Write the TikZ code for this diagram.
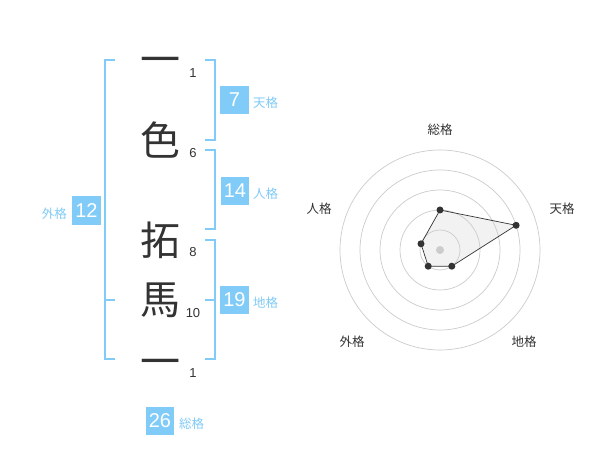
\documentclass[tikz,border=0pt]{standalone}
\usepackage{fontspec}
\setmainfont{Liberation Sans}
\newfontfamily\jp{Noto Sans CJK JP}
\definecolor{kblue}{HTML}{80CBF8}
\definecolor{kdark}{HTML}{333333}
\definecolor{kgrid}{HTML}{CCCCCC}
\definecolor{kfill}{HTML}{E6E6E6}
\tikzset{
  bracket/.style={draw=kblue, line width=2pt},
  bigchar/.style={inner sep=0pt, text=kdark, font=\jp\fontsize{40}{40}\selectfont},
  strokenum/.style={inner sep=0pt, text=kdark, font=\fontsize{13}{13}\selectfont},
  valbox/.style={fill=kblue, text=white, minimum width=28.5pt, minimum height=28.5pt, inner sep=0pt, font=\fontsize{20}{20}\selectfont},
  vallabel/.style={inner sep=0pt, text=kblue, font=\jp\fontsize{12.5}{12.5}\selectfont},
  radarlabel/.style={inner sep=0pt, text=kdark, font=\jp\fontsize{12.5}{12.5}\selectfont},
  ring/.style={draw=kgrid, line width=0.7pt},
  dot/.style={circle, fill=kdark, inner sep=0pt, minimum size=7pt},
}
\begin{document}
\begin{tikzpicture}[x=1pt,y=-1pt]
\useasboundingbox (0,0) rectangle (600,470);
\fill[white] (0,0) rectangle (600,470);

% characters
\node[bigchar] (c1) at (160,66) {一};
\node[bigchar] (c2) at (160,140) {色};
\node[bigchar] (c3) at (160,240) {拓};
\node[bigchar] (c4) at (160,300) {馬};
\node[bigchar] (c5) at (160,368) {一};

% stroke counts
\node[strokenum] (n1) at (193,73) {1};
\node[strokenum] (n2) at (193,153) {6};
\node[strokenum] (n3) at (193,252) {8};
\node[strokenum] (n4) at (193,313) {10};
\node[strokenum] (n5) at (193,373) {1};

% brackets
\draw[bracket] (115,60) -- (105,60) -- (105,359) -- (115,359);
\draw[bracket] (105,300) -- (115,300);
\draw[bracket] (205,60) -- (215,60) -- (215,140) -- (205,140);
\draw[bracket] (205,150) -- (215,150) -- (215,229) -- (205,229);
\draw[bracket] (205,240) -- (215,240) -- (215,359) -- (205,359);
\draw[bracket] (205,300) -- (215,300);

% value boxes
\node[valbox] (ten) at (234.5,100) {7};
\node[vallabel, anchor=west] (tenl) at (253,103) {天格};
\node[valbox] (jin) at (235,191) {14};
\node[vallabel, anchor=west] (jinl) at (253,194) {人格};
\node[valbox] (chi) at (234.5,300) {19};
\node[vallabel, anchor=west] (chil) at (253,303) {地格};
\node[valbox] (gai) at (86.5,210.5) {12};
\node[vallabel, anchor=east] (gail) at (67,213.5) {外格};
\node[valbox] (sou) at (160,421) {26};
\node[vallabel, anchor=west] (soul) at (179,424) {総格};

% radar chart
\coordinate (rc) at (440,250);
\coordinate (ps) at (440,210);
\coordinate (pt) at (516.1,225.3);
\coordinate (pc) at (451.8,266.2);
\coordinate (pg) at (428.2,266.2);
\coordinate (pj) at (421.0,243.8);
\fill[kfill, fill opacity=0.5] (ps) -- (pt) -- (pc) -- (pg) -- (pj) -- cycle;
\foreach \r in {20,40,60,80,100} \draw[ring] (rc) circle[radius=\r];
\fill[kgrid] (rc) circle[radius=4];
\draw[draw=kdark, line width=0.7pt] (ps) -- (pt) -- (pc) -- (pg) -- (pj) -- cycle;
\foreach \p in {ps,pt,pc,pg,pj} \node[dot] at (\p) {};
\node[radarlabel] (ls) at (440,130) {総格};
\node[radarlabel] (lt) at (562,209) {天格};
\node[radarlabel] (lc) at (524,342) {地格};
\node[radarlabel] (lg) at (352,342) {外格};
\node[radarlabel] (lj) at (319,209) {人格};
\end{tikzpicture}
\end{document}
